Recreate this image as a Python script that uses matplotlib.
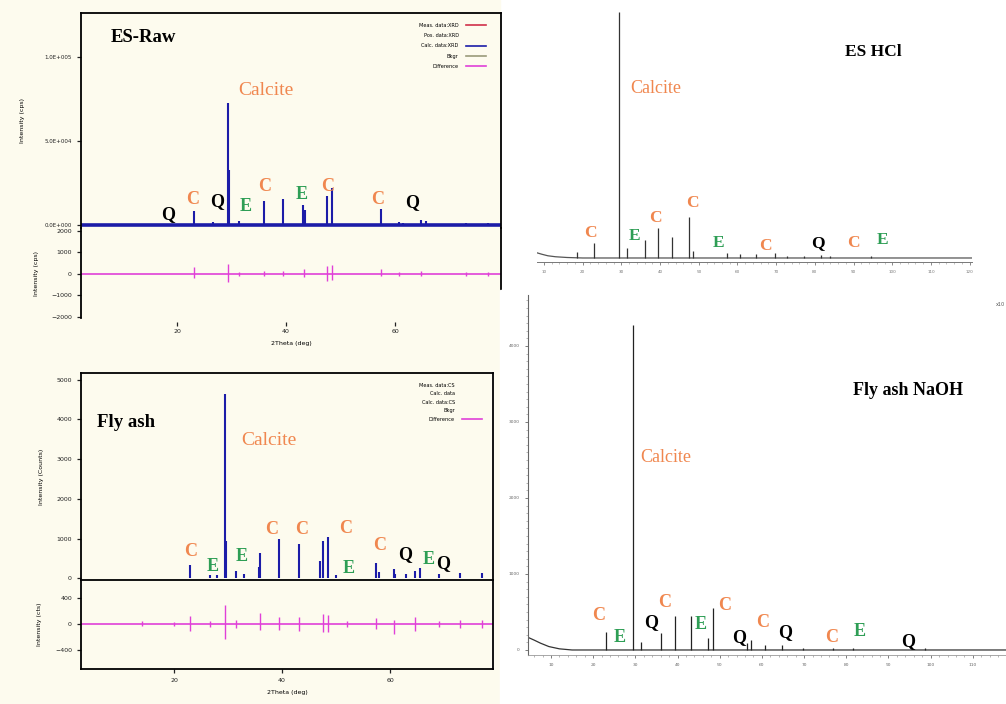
import matplotlib
matplotlib.use('Agg')
import matplotlib.pyplot as plt
from matplotlib.lines import Line2D
from matplotlib.patches import Rectangle
from matplotlib.ticker import MultipleLocator, FixedLocator

W, H = 1006, 704

# ES-Raw: calculated pattern (peak sticks) and difference curve
raw_tt = [23.05, 26.6, 29.4, 29.5, 31.4, 36.0, 39.4, 43.15, 43.5, 47.5, 48.5,
          57.4, 60.7, 61.4, 64.7, 65.6, 72.9, 77.1]
raw_cts = [8300, 1500, 72600, 32700, 2500, 14300, 15500, 11900, 8900, 17300,
           22000, 9500, 1800, 1200, 3000, 2400, 1200, 1200]
raw_diff_tt = [23.05, 29.4, 31.4, 36.0, 39.4, 43.2, 47.5, 48.5, 57.4, 60.7,
               64.7, 72.9, 77.1]
raw_diff_hi = [300, 450, 100, 150, 150, 250, 350, 400, 250, 100, 150, 100, 100]
raw_diff_lo = [-200, -400, -100, -100, -100, -150, -350, -300, -100, -100,
               -100, -100, -100]
raw_tag_txt = ['Q', 'C', 'Q', 'E', 'C', 'E', 'C', 'C', 'Q']
raw_tag_tt = [18.4, 22.9, 27.3, 32.5, 36.0, 42.8, 47.7, 56.7, 63.1]
raw_tag_y = [6500, 14900, 13700, 11300, 23200, 18400, 23200, 14900, 13100]

# Fly ash
fa_tt = [23.05, 26.6, 27.9, 29.4, 29.55, 31.4, 33.0, 35.8, 36.0, 39.4, 43.2,
         47.1, 47.5, 48.5, 50.0, 57.4, 58.0, 60.7, 61.0, 63.0, 64.7, 65.6,
         69.1, 72.9, 77.1]
fa_cts = [330, 80, 80, 4650, 940, 180, 100, 280, 630, 990, 860, 430, 940,
          1040, 80, 380, 150, 230, 120, 100, 180, 250, 100, 130, 130]
fa_diff_tt = [14.1, 20.0, 23.05, 26.6, 29.4, 31.4, 36.0, 39.4, 43.2, 47.5,
              48.5, 52.0, 57.4, 60.7, 64.7, 69.1, 72.9, 77.1]
fa_diff_hi = [40, 30, 120, 40, 290, 60, 170, 110, 110, 150, 140, 40, 100, 60,
              110, 50, 60, 60]
fa_diff_lo = [-30, -30, -100, -40, -230, -60, -90, -90, -100, -130, -120,
              -40, -80, -150, -110, -50, -60, -60]
fa_tag_txt = ['C', 'E', 'E', 'C', 'C', 'C', 'E', 'C', 'Q', 'E', 'Q']
fa_tag_tt = [23.0, 27.2, 32.6, 38.15, 43.7, 51.7, 52.4, 58.0, 62.8, 67.2, 69.8]
fa_tag_y = [680, 300, 560, 1240, 1240, 1265, 250, 835, 610, 480, 380]

# ES HCl
hcl_bg_tt = [8.2, 9.5, 11.0, 13.0, 16.0, 20.0, 120.6]
hcl_bg_cts = [210, 150, 90, 50, 20, 0, 0]
hcl_tt = [18.5, 23.05, 29.4, 31.4, 36.0, 39.4, 43.15, 47.5, 48.5, 57.4, 60.7,
          64.7, 69.7, 72.9, 77.1, 81.5, 83.8, 94.6]
hcl_cts = [250, 610, 10000, 400, 730, 1220, 850, 1670, 300, 200, 150, 150,
           200, 100, 100, 120, 80, 80]
hcl_tag_txt = ['C', 'E', 'C', 'C', 'E', 'C', 'Q', 'C', 'E']
hcl_tag_tt = [21.9, 33.5, 38.7, 48.25, 55.0, 67.1, 80.8, 89.85, 97.35]
hcl_tag_y = [1020, 890, 1630, 2240, 610, 490, 610, 610, 730]

# Fly ash NaOH
na_bg_tt = [4.6, 6.0, 7.5, 9.5, 12.0, 15.0, 118.8]
na_bg_cts = [165, 130, 90, 45, 15, 0, 0]
na_tt = [23.05, 29.4, 31.4, 36.0, 39.4, 43.15, 47.1, 48.5, 56.4, 57.4, 60.7,
         64.7, 69.7, 76.8, 81.6, 98.6]
na_cts = [240, 4280, 105, 225, 450, 450, 160, 550, 90, 130, 65, 65, 30, 30,
          30, 30]
na_tag_txt = ['C', 'E', 'Q', 'C', 'E', 'C', 'Q', 'C', 'Q', 'C', 'E', 'Q']
na_tag_tt = [21.4, 26.35, 33.7, 37.0, 45.5, 51.2, 54.5, 60.2, 65.5, 76.6,
             83.2, 94.6]
na_tag_y = [460, 170, 355, 630, 330, 590, 170, 355, 225, 160, 240, 105]

CALC = '#1c1ca8'
DIFF = '#e040d8'
ORANGE = '#f0874f'
GREEN = '#2e9e55'
CREAM = '#fdfbee'
SERIF = 'Liberation Serif'
tag_colors = {'C': ORANGE, 'E': GREEN, 'Q': 'black'}


def frame(x0, y0, x1, y1):
    # pixel box (left, top, right, bottom) -> figure fraction
    return [x0 / W, 1 - y1 / H, (x1 - x0) / W, (y1 - y0) / H]


def phase_tags(ax, txt, tt, y, size=13):
    for s, a, b in zip(txt, tt, y):
        ax.text(a, b, s, color=tag_colors[s], fontsize=size, family=SERIF,
                fontweight='bold', ha='center', va='center')


def small_ticks(ax, size=4.5):
    ax.tick_params(labelsize=size, colors='#222', width=0.9, length=3)


fig = plt.figure(figsize=(W / 100, H / 100), dpi=100, facecolor='white')
fig.patches.append(Rectangle((0, 0), 500 / W, 1, transform=fig.transFigure,
                             color=CREAM, zorder=-1))

# ---------------- ES-Raw ----------------
ax1 = fig.add_axes(frame(81, 13, 501, 228), facecolor='none')
ax1.vlines(raw_tt, 0, raw_cts, color=CALC, lw=1.5)
ax1.axhline(0, color=CALC, lw=2.6)
ax1.set_xlim(2.39, 79.4)
ax1.set_ylim(-1790, 126200)
ax1.spines['bottom'].set_visible(False)
for s in ['top', 'left', 'right']:
    ax1.spines[s].set_linewidth(1.3)
ax1.set_xticks([])
ax1.yaxis.set_major_locator(FixedLocator([0, 50000, 100000]))
ax1.set_yticklabels(['0.0E+000', '5.0E+004', '1.0E+005'])
small_ticks(ax1, 4)
ax1.set_ylabel('Intensity (cps)', fontsize=4.5, labelpad=14)
phase_tags(ax1, raw_tag_txt, raw_tag_tt, raw_tag_y)
ax1.text(36.3, 80300, 'Calcite', color=ORANGE, fontsize=14, family=SERIF,
         ha='center', va='center')
ax1.text(0.07, 0.884, 'ES-Raw', transform=ax1.transAxes, fontsize=13.5,
         family=SERIF, fontweight='bold', va='center')
handles = [Line2D([], [], color=c, lw=1.2)
           for c in ['#d0304a', 'none', CALC, '#9a9a7a', DIFF]]
ax1.legend(handles, ['Meas. data:XRD', 'Pos. data:XRD', 'Calc. data:XRD',
                     'Bkgr', 'Difference'],
           loc='upper right', bbox_to_anchor=(0.975, 0.975), frameon=False,
           fontsize=3.6, markerfirst=False, handlelength=4,
           labelspacing=1.05, handletextpad=1.5)

ax2 = fig.add_axes(frame(81, 228, 501, 318), facecolor='none')
ax2.vlines(raw_diff_tt, raw_diff_lo, raw_diff_hi, color=DIFF, lw=1.0)
ax2.axhline(0, color=DIFF, lw=1.2)
ax2.set_xlim(2.39, 79.4)
ax2.set_ylim(-2060, 2140)
ax2.spines['top'].set_visible(False)
ax2.spines['bottom'].set_visible(False)
ax2.spines['bottom'].set_position(('outward', 3))
for s in ['left', 'right']:
    ax2.spines[s].set_linewidth(1.3)
ax2.set_xticks([20, 40, 60])
ax2.yaxis.set_major_locator(MultipleLocator(1000))
small_ticks(ax2, 4.5)
ax2.tick_params(axis='x', pad=2)
ax2.set_ylabel('Intensity (cps)', fontsize=4.5, labelpad=9)
ax2.set_xlabel('2Theta (deg)', fontsize=4.5, labelpad=5)

# ---------------- ES HCl ----------------
ax3 = fig.add_axes(frame(537, 8, 972, 262), facecolor='none')
ax3.plot(hcl_bg_tt, hcl_bg_cts, color='#555', lw=0.9)
ax3.vlines(hcl_tt, 0, hcl_cts, color='#333', lw=0.9)
ax3.set_xlim(8.2, 120.6)
ax3.set_ylim(-163, 10160)
for s in ['top', 'left', 'right']:
    ax3.spines[s].set_visible(False)
ax3.spines['bottom'].set_color('#777')
ax3.spines['bottom'].set_linewidth(0.7)
ax3.set_yticks([])
ax3.xaxis.set_major_locator(MultipleLocator(10))
ax3.xaxis.set_minor_locator(MultipleLocator(2))
ax3.tick_params(axis='x', labelsize=3, colors='#777', length=2.5, width=0.6)
ax3.tick_params(axis='x', which='minor', length=1.2, width=0.5, colors='#aaa')
phase_tags(ax3, hcl_tag_txt, hcl_tag_tt, hcl_tag_y, size=12.5)
ax3.text(39.0, 6900, 'Calcite', color=ORANGE, fontsize=13, family=SERIF,
         ha='center', va='center')
ax3.text(0.772, 0.827, 'ES HCl', transform=ax3.transAxes, fontsize=12.5,
         family=SERIF, fontweight='bold', ha='center', va='center')

# ---------------- Fly ash ----------------
ax4 = fig.add_axes(frame(81, 373, 493, 580), facecolor='none')
ax4.vlines(fa_tt, 0, fa_cts, color=CALC, lw=1.5)
ax4.set_xlim(2.78, 79.07)
ax4.set_ylim(-40, 5170)
for s in ax4.spines.values():
    s.set_linewidth(1.3)
ax4.set_xticks([])
ax4.yaxis.set_major_locator(MultipleLocator(1000))
small_ticks(ax4, 4.5)
ax4.set_ylabel('Intensity (Counts)', fontsize=4.5, labelpad=9)
phase_tags(ax4, fa_tag_txt, fa_tag_tt, fa_tag_y)
ax4.text(37.6, 3470, 'Calcite', color=ORANGE, fontsize=14, family=SERIF,
         ha='center', va='center')
ax4.text(0.039, 0.763, 'Fly ash', transform=ax4.transAxes, fontsize=13.5,
         family=SERIF, fontweight='bold', va='center')
handles = [Line2D([], [], color=c, lw=1.2)
           for c in ['none', 'none', 'none', 'none', DIFF]]
ax4.legend(handles, ['Meas. data:CS', 'Calc. data', 'Calc. data:CS', 'Bkgr',
                     'Difference'],
           loc='upper right', bbox_to_anchor=(0.985, 0.975), frameon=False,
           fontsize=3.6, markerfirst=False, handlelength=4,
           labelspacing=0.7, handletextpad=1.5)

ax5 = fig.add_axes(frame(81, 580, 493, 669), facecolor='none')
ax5.vlines(fa_diff_tt, fa_diff_lo, fa_diff_hi, color=DIFF, lw=1.0)
ax5.axhline(0, color=DIFF, lw=1.2)
ax5.set_xlim(2.78, 79.07)
ax5.set_ylim(-692, 677)
ax5.spines['top'].set_visible(False)
for s in ['left', 'right', 'bottom']:
    ax5.spines[s].set_linewidth(1.3)
ax5.set_xticks([20, 40, 60])
ax5.set_yticks([-400, 0, 400])
small_ticks(ax5, 4.5)
ax5.set_ylabel('Intensity (cts)', fontsize=4.5, labelpad=9)
ax5.set_xlabel('2Theta (deg)', fontsize=4.5, labelpad=5)

# ---------------- Fly ash NaOH ----------------
fig.patches.append(Rectangle((500 / W, 0), 1, 1 - 290 / H,
                             transform=fig.transFigure, color='white',
                             zorder=1))
ax6 = fig.add_axes(frame(528, 295, 1010, 655), facecolor='none', zorder=2)
ax6.plot(na_bg_tt, na_bg_cts, color='#333', lw=0.9)
ax6.vlines(na_tt, 0, na_cts, color='#222', lw=0.9)
ax6.set_xlim(4.55, 118.8)
ax6.set_ylim(-66, 4670)
for s in ['top', 'right']:
    ax6.spines[s].set_visible(False)
ax6.spines['left'].set_color('#666')
ax6.spines['left'].set_linewidth(0.8)
ax6.spines['bottom'].set_color('#999')
ax6.spines['bottom'].set_linewidth(0.6)
ax6.xaxis.set_major_locator(MultipleLocator(10))
ax6.xaxis.set_minor_locator(MultipleLocator(2))
ax6.yaxis.set_major_locator(MultipleLocator(1000))
ax6.yaxis.set_minor_locator(MultipleLocator(100))
ax6.tick_params(labelsize=3.2, colors='#666', length=2.5, width=0.6)
ax6.tick_params(which='minor', length=1.2, width=0.5, colors='#999')
phase_tags(ax6, na_tag_txt, na_tag_tt, na_tag_y)
ax6.text(37.25, 2530, 'Calcite', color=ORANGE, fontsize=13, family=SERIF,
         ha='center', va='center')
ax6.text(0.788, 0.736, 'Fly ash NaOH', transform=ax6.transAxes, fontsize=13,
         family=SERIF, fontweight='bold', ha='center', va='center')
fig.text(0.999, 1 - 305 / H, 'x10', fontsize=3.5, color='#555', ha='right',
         va='center')

fig.savefig('out.png', dpi=100, facecolor=fig.get_facecolor())
